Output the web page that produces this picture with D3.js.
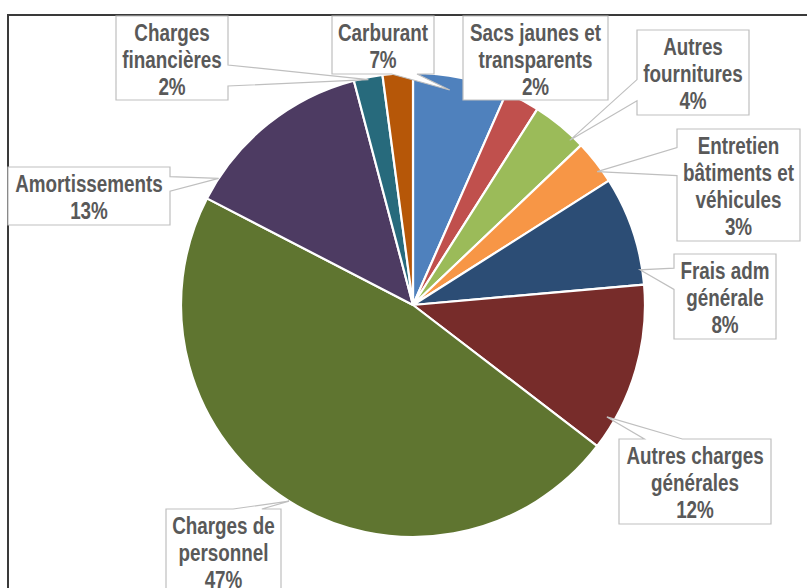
<!DOCTYPE html>
<html><head><meta charset="utf-8">
<script src="https://cdn.jsdelivr.net/npm/d3@7"></script>
<style>html,body{margin:0;padding:0;background:#fff;overflow:hidden}</style>
</head><body>
<svg id="chart" width="807" height="588"></svg>
<script>
// ---- data ----
const categories = ["Carburant","Sacs jaunes et transparents","Autres fournitures","Entretien bâtiments et véhicules","Frais adm générale","Autres charges générales","Charges de personnel","Amortissements","Charges financières","Autres (sans étiquette)"];
const values = [6.6, 2.4, 3.9, 3.1, 7.6, 11.8, 47.2, 13.3, 2.0, 2.1];
const colors = ["#4F81BD","#C0504D","#9BBB59","#F79646","#2C4D75","#772C2A","#5F7530","#4D3B62","#276A7C","#B65708"];
const labelLines = {
  "Carburant":["Carburant"],
  "Sacs jaunes et transparents":["Sacs jaunes et","transparents"],
  "Autres fournitures":["Autres","fournitures"],
  "Entretien bâtiments et véhicules":["Entretien","bâtiments et","véhicules"],
  "Frais adm générale":["Frais adm","générale"],
  "Autres charges générales":["Autres charges","générales"],
  "Charges de personnel":["Charges de","personnel"],
  "Amortissements":["Amortissements"],
  "Charges financières":["Charges","financières"]
};
// label box layout: x,y,w,h and pointer tip (angle deg, radius fraction)
const labelLayout = {
  "Carburant":{x:332,y:16,w:102,h:58,ang:9.7,rf:0.94},
  "Sacs jaunes et transparents":{x:463,y:16,w:145,h:84,ang:30,rf:1.06},
  "Autres fournitures":{x:637,y:30,w:112,h:85,ang:43.6,rf:0.98},
  "Entretien bâtiments et véhicules":{x:677,y:129,w:123,h:112,ang:54.1,rf:0.98},
  "Frais adm générale":{x:674,y:254,w:102,h:85,ang:81.2,rf:0.99},
  "Autres charges générales":{x:619,y:439,w:152,h:85,ang:120,rf:0.965},
  "Charges de personnel":{x:166,y:509,w:115,h:85,ang:212.3,rf:1.0},
  "Amortissements":{x:8,y:167,w:162,h:58,ang:303.1,rf:1.0},
  "Charges financières":{x:116,y:16,w:112,h:84,ang:348.8,rf:0.99}
};

const svg = d3.select("#chart");
const W = 807, H = 588;
const cx = 413, cy = 305, R = 232;

// font detection
function hasFont(f){
  const c = document.createElement("canvas").getContext("2d");
  c.font = "bold 23px monospace"; const a = c.measureText("Amortissements").width;
  c.font = "bold 23px '"+f+"', monospace"; const b = c.measureText("Amortissements").width;
  return Math.abs(a-b) > 0.5;
}
const narrow = hasFont("Liberation Sans Narrow");
const fontFam = narrow ? "'Liberation Sans Narrow','Arial Narrow',sans-serif" : "'Liberation Sans',Arial,sans-serif";
const sx = narrow ? 1 : 0.82;

svg.append("rect").attr("width",W).attr("height",H).attr("fill","#fff");

const total = d3.sum(values);
const data = categories.map((c,i)=>({name:c, value:values[i], color:colors[i]}));
const pie = d3.pie().sort(null).value(d=>d.value).startAngle(0).endAngle(2*Math.PI);
const arc = d3.arc().innerRadius(0).outerRadius(R);
const arcs = pie(data);

const g = svg.append("g").attr("transform",`translate(${cx},${cy})`);
g.selectAll("path").data(arcs).enter().append("path")
  .attr("d",arc).attr("fill",d=>d.data.color)
  .attr("stroke","#fff").attr("stroke-width",2.2).attr("stroke-linejoin","round");

// frame
svg.append("path").attr("d",`M8,${H+5} L8,15 L${W+5},15`).attr("fill","none")
  .attr("stroke","#3a3a3a").attr("stroke-width",2);

// callouts
function calloutPath(b, tx, ty){
  const l=b.x, t=b.y, r=b.x+b.w, bt=b.y+b.h, w=b.w, h=b.h;
  if (tx>=l && tx<=r && ty>=t && ty<=bt) return `M${l},${t}H${r}V${bt}H${l}Z`;
  const hc=l+w/2, vc=t+h/2, dx=tx-hc, dy=ty-vc;
  const horiz = Math.abs(dx*h) > Math.abs(dy*w);
  if (horiz){
    const y1 = dy>0 ? t+h*7/12 : t+h*2/12, y2 = dy>0 ? t+h*10/12 : t+h*5/12;
    if (dx<0) return `M${l},${t}H${r}V${bt}H${l}V${y2}L${tx},${ty}L${l},${y1}Z`;
    return `M${l},${t}H${r}V${y1}L${tx},${ty}L${r},${y2}V${bt}H${l}Z`;
  } else {
    const x1 = dx>0 ? l+w*7/12 : l+w*2/12, x2 = dx>0 ? l+w*10/12 : l+w*5/12;
    if (dy<0) return `M${l},${t}H${x1}L${tx},${ty}L${x2},${t}H${r}V${bt}H${l}Z`;
    return `M${l},${t}H${r}V${bt}H${x2}L${tx},${ty}L${x1},${bt}H${l}Z`;
  }
}
const lineH = 27;
arcs.forEach(a=>{
  const name = a.data.name, lay = labelLayout[name];
  if(!lay) return;
  const ang = lay.ang*Math.PI/180, rr = R*lay.rf;
  const tx = cx + rr*Math.sin(ang), ty = cy - rr*Math.cos(ang);
  svg.append("path").attr("d",calloutPath(lay,tx,ty))
    .attr("fill","#fff").attr("stroke","#bfbfbf").attr("stroke-width",1.2);
  const lines = labelLines[name].concat([Math.round(a.data.value/total*100)+"%"]);
  const mx = lay.x+lay.w/2, my = lay.y+lay.h/2;
  const tg = svg.append("g").attr("transform",`translate(${mx},0) scale(${sx},1)`);
  lines.forEach((s,i)=>{
    tg.append("text").attr("x",0)
      .attr("y", my + (i-(lines.length-1)/2)*lineH + 10)
      .attr("text-anchor","middle").attr("font-family",fontFam)
      .attr("font-weight","bold").attr("font-size",23).attr("fill","#595959").text(s);
  });
});
</script>
</body></html>
